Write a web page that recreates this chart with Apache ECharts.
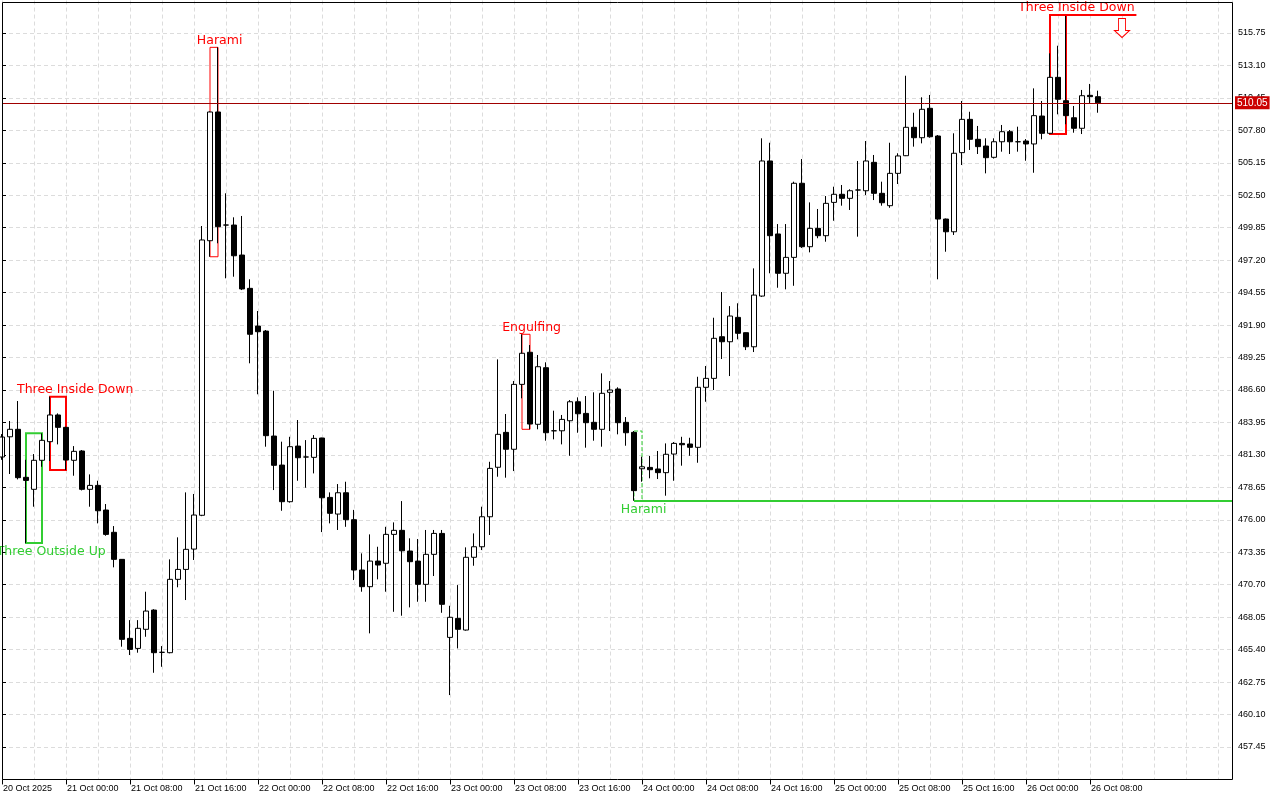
<!DOCTYPE html>
<html>
<head>
<meta charset="utf-8">
<title>H1 candles</title>
<script src="https://cdn.jsdelivr.net/npm/echarts@6.0.0/dist/echarts.min.js"></script>
<style>
  html, body { margin: 0; padding: 0; background: #fff; }
  #chart { width: 1280px; height: 800px; }
</style>
</head>
<body>
<div id="chart"></div>
<script>
// one label every 8 hourly bars, first bar is 20 Oct 16:00
const timeLabels = [
  '20 Oct 2025', '21 Oct 00:00', '21 Oct 08:00', '21 Oct 16:00', '22 Oct 00:00',
  '22 Oct 08:00', '22 Oct 16:00', '23 Oct 00:00', '23 Oct 08:00', '23 Oct 16:00',
  '24 Oct 00:00', '24 Oct 08:00', '24 Oct 16:00', '25 Oct 00:00', '25 Oct 08:00',
  '25 Oct 16:00', '26 Oct 00:00', '26 Oct 08:00'
];
const barsPerLabel = 8;
const barSlots = 153.75; // bar slots visible across the plot

const opens = [
  481.13, 482.78, 483.39, 479.47, 478.49, 480.86, 482.38, 484.56, 483.55, 480.86,
  481.62, 478.49, 478.81, 476.80, 474.98, 472.77, 466.32, 465.50, 467.06, 468.63,
  465.18, 465.15, 471.14, 471.95, 473.61, 476.37, 498.79, 509.30, 500.07, 500.07,
  497.62, 494.90, 491.82, 491.41, 482.84, 480.47, 477.48, 482.02, 481.13, 481.10,
  482.68, 477.83, 476.47, 478.21, 476.01, 471.90, 470.54, 472.63, 472.45, 474.81,
  475.14, 473.45, 472.63, 470.73, 473.18, 474.89, 466.40, 467.95, 467.00, 472.94,
  473.80, 476.25, 480.29, 483.14, 481.76, 487.06, 489.68, 483.80, 488.42, 483.27,
  483.27, 484.09, 485.64, 484.69, 483.96, 483.39, 486.41, 486.68, 483.96, 483.14,
  480.17, 480.28, 480.15, 479.85, 481.37, 482.24, 482.19, 481.92, 486.82, 487.55,
  490.95, 490.54, 492.53, 491.28, 490.13, 494.27, 505.30, 499.34, 496.13, 497.43,
  503.48, 498.30, 499.80, 499.20, 501.92, 502.58, 502.25, 502.93, 502.87, 505.19,
  502.66, 501.65, 504.29, 505.73, 508.05, 507.20, 509.60, 507.34, 500.56, 499.52,
  505.98, 508.70, 507.07, 506.52, 505.60, 506.87, 507.69, 506.87, 506.93, 506.69,
  508.97, 507.56, 512.13, 510.22, 508.83, 507.97, 510.66, 510.55
];
const highs = [
  483.00, 484.07, 485.70, 480.90, 481.37, 483.06, 486.05, 484.69, 483.60, 482.02,
  481.70, 479.71, 479.19, 477.29, 475.49, 472.80, 467.81, 467.81, 470.13, 468.70,
  465.69, 472.77, 474.57, 478.24, 478.11, 499.99, 509.35, 514.58, 502.66, 500.70,
  500.81, 495.64, 493.05, 491.50, 486.54, 482.38, 482.78, 484.15, 482.51, 482.92,
  482.70, 478.24, 478.92, 479.11, 476.81, 473.26, 474.81, 473.80, 475.43, 475.79,
  477.53, 474.49, 474.43, 475.17, 475.17, 475.17, 468.98, 470.67, 473.75, 474.89,
  477.07, 480.74, 489.10, 484.64, 487.33, 491.15, 490.27, 489.46, 488.86, 484.91,
  484.56, 485.78, 486.00, 486.11, 486.41, 487.96, 487.33, 486.82, 484.39, 483.25,
  481.15, 481.21, 481.62, 482.24, 482.35, 482.78, 482.70, 487.68, 488.56, 492.50,
  494.60, 493.45, 493.68, 491.30, 496.53, 507.15, 506.79, 500.15, 500.15, 503.61,
  505.46, 501.92, 501.38, 502.44, 503.20, 503.34, 502.99, 505.30, 506.93, 505.79,
  503.61, 506.79, 505.93, 512.26, 509.24, 510.50, 510.69, 507.42, 500.60, 507.56,
  510.20, 509.32, 508.16, 507.15, 507.15, 508.24, 507.83, 508.10, 507.09, 511.23,
  510.20, 514.09, 514.71, 517.22, 509.79, 511.10, 511.59, 511.04
];
const lows = [
  480.90, 479.74, 479.30, 474.10, 477.07, 480.33, 480.80, 482.16, 480.06, 479.60,
  478.40, 477.07, 475.71, 474.70, 472.12, 465.64, 464.96, 465.15, 466.45, 463.51,
  464.00, 465.10, 470.49, 469.45, 472.72, 476.30, 497.48, 498.58, 495.72, 495.85,
  494.76, 488.78, 486.25, 481.97, 478.43, 476.74, 477.40, 479.19, 478.62, 479.79,
  475.00, 475.71, 475.17, 475.43, 471.08, 470.13, 466.73, 471.14, 470.13, 468.49,
  468.17, 468.85, 469.31, 469.31, 471.41, 468.41, 461.69, 465.50, 466.95, 472.25,
  473.53, 474.76, 479.52, 479.44, 479.98, 485.92, 483.39, 483.39, 482.46, 482.57,
  482.16, 481.23, 483.11, 481.89, 482.46, 481.97, 483.25, 482.98, 482.05, 477.56,
  479.11, 479.39, 479.33, 477.97, 479.19, 480.42, 481.23, 480.66, 485.64, 486.60,
  489.13, 487.74, 490.74, 489.86, 489.70, 494.20, 496.13, 494.95, 494.82, 495.11,
  498.20, 497.84, 498.99, 498.71, 500.42, 501.65, 501.30, 499.12, 502.52, 502.11,
  501.65, 501.48, 503.42, 505.70, 506.47, 506.74, 507.20, 495.64, 497.89, 499.26,
  504.97, 506.20, 505.87, 504.29, 505.50, 506.06, 505.87, 506.06, 505.32, 504.34,
  507.07, 507.50, 509.11, 508.30, 507.61, 507.50, 510.01, 509.24
];
const closes = [
  482.76, 483.39, 479.44, 479.22, 480.86, 482.49, 484.56, 483.55, 480.88, 481.59,
  478.49, 478.81, 476.74, 474.81, 472.77, 466.24, 465.42, 467.14, 468.55, 465.15,
  465.18, 471.14, 471.95, 473.59, 476.39, 498.85, 509.30, 499.93, 500.07, 497.56,
  494.85, 491.15, 491.36, 482.87, 480.45, 477.48, 481.97, 481.07, 481.13, 482.65,
  477.80, 476.53, 478.21, 476.01, 471.90, 470.54, 472.63, 472.31, 474.81, 475.14,
  473.47, 472.58, 470.73, 473.18, 474.89, 469.10, 468.04, 467.06, 472.94, 473.80,
  476.25, 480.20, 482.98, 481.76, 487.06, 489.60, 483.82, 488.50, 483.11, 483.27,
  484.20, 485.64, 484.66, 483.93, 483.39, 486.33, 486.60, 483.93, 483.11, 478.38,
  480.33, 480.09, 479.85, 481.35, 482.24, 482.13, 481.92, 486.82, 487.55, 490.82,
  490.54, 492.64, 491.23, 490.13, 494.35, 505.30, 499.20, 496.13, 497.43, 503.48,
  498.30, 499.80, 499.20, 501.84, 502.58, 502.25, 502.87, 502.93, 505.30, 502.66,
  501.89, 504.29, 505.71, 508.05, 507.20, 509.52, 507.28, 500.56, 499.52, 505.93,
  508.70, 507.07, 506.47, 505.57, 506.87, 507.69, 506.87, 506.87, 506.69, 509.00,
  507.56, 512.13, 510.34, 509.00, 507.97, 510.63, 510.55, 510.05
];

// candle patterns found on the chart (bar indexes)
const patternNames = ['Three Outside Up', 'Three Inside Down', 'Harami', 'Engulfing', 'Harami', 'Three Inside Down'];
const patternFirst = [3, 6, 26, 65, 79, 131];
const patternLast = [5, 8, 27, 66, 80, 133];
const patternBullish = [true, false, false, false, true, false];
const patternTextBar = [6.15, 9.15, 27.2, 66.2, 80.2, 134.3];

const signalBar = 140;
const signalPrice = 516.16;
const signalLineEnd = 141.8;

const yMin = 454.80;
const yMax = 518.40;
const yStep = 2.65;

const RED = '#ff0000';
const GREEN = '#32cd32';
const FONT = 'Liberation Sans';

const candles = opens.map((o, i) => [i, o, closes[i], lows[i], highs[i]]);
const labelBars = timeLabels.map((t, i) => i * barsPerLabel);

const rangeOf = i => {
  const a = patternFirst[i], b = patternLast[i];
  return {
    top: Math.max(...highs.slice(a, b + 1)),
    bottom: Math.min(...lows.slice(a, b + 1))
  };
};

const rects = patternNames.map((name, i) => {
  const r = rangeOf(i);
  const wide = patternLast[i] - patternFirst[i] >= 2;
  const bull = patternBullish[i];
  return [{
    coord: [patternFirst[i], r.top],
    itemStyle: {
      color: 'rgba(0,0,0,0)',
      borderColor: bull ? GREEN : RED,
      borderWidth: wide ? 2 : 1,
      borderType: (bull && !wide) ? 'dashed' : 'solid'
    }
  }, {
    coord: [patternLast[i], r.bottom]
  }];
});

const texts = patternNames.map((name, i) => {
  const r = rangeOf(i);
  const bull = patternBullish[i];
  return {
    name: name,
    coord: [patternTextBar[i], bull ? r.bottom : r.top],
    symbol: 'rect',
    symbolSize: 1,
    itemStyle: { color: 'rgba(0,0,0,0)' },
    label: {
      show: true,
      position: bull ? 'bottom' : 'top',
      distance: bull ? 2 : 0,
      formatter: name,
      color: bull ? GREEN : RED,
      fontSize: 12.5,
      fontFamily: 'DejaVu Sans'
    }
  };
});

const arrow = {
  coord: [signalBar, signalPrice],
  symbol: 'path://M4,0 L11,0 L11,12 L15,12 L7.5,19 L0,12 L4,12 Z',
  symbolSize: [15, 19],
  itemStyle: { color: '#fff', borderColor: RED, borderWidth: 1 },
  label: { show: false }
};

const support = rangeOf(4).bottom;
const lastTop = rangeOf(5).top;
const lastClose = closes[closes.length - 1];

const lines = [
  {
    yAxis: lastClose,
    lineStyle: { color: '#a00000', width: 1, type: 'solid' },
    label: {
      show: true,
      position: 'end',
      distance: 3,
      formatter: p => p.value.toFixed(2),
      color: '#fff',
      backgroundColor: '#cc0000',
      padding: [2, 2, 1, 2],
      fontSize: 10,
      fontFamily: FONT
    }
  },
  [
    { coord: [patternFirst[4], support], lineStyle: { color: GREEN, width: 2, type: 'solid' } },
    { coord: [barSlots, support] }
  ],
  [
    { coord: [patternFirst[5], lastTop], lineStyle: { color: RED, width: 2, type: 'solid' } },
    { coord: [signalLineEnd, lastTop] }
  ]
];

const gridLine = { color: '#dcdcdc', type: [4, 3], width: 1 };

const myChart = echarts.init(document.getElementById('chart'));

const option = {
  animation: false,
  backgroundColor: '#fff',
  grid: {
    left: 2,
    right: 48,
    top: 0.55,
    bottom: 20.55
  },
  xAxis: [{
    type: 'value',
    min: 0,
    max: barSlots,
    interval: barsPerLabel,
    axisLine: { show: false },
    axisTick: {
      show: true,
      length: 5,
      customValues: labelBars,
      lineStyle: { color: '#000' }
    },
    axisLabel: {
      align: 'left',
      margin: 5,
      padding: [0, 0, 0, 1],
      color: '#000',
      fontSize: 9,
      fontFamily: FONT,
      customValues: labelBars,
      formatter: v => timeLabels[Math.round(v / barsPerLabel)] || ''
    },
    splitLine: { show: false }
  }, {
    type: 'value',
    position: 'top',
    min: 0,
    max: barSlots,
    interval: barsPerLabel / 2,
    axisLine: { show: false },
    axisTick: { show: false },
    axisLabel: { show: false },
    splitLine: { show: true, lineStyle: gridLine }
  }],
  yAxis: {
    type: 'value',
    position: 'right',
    min: yMin,
    max: yMax,
    interval: yStep,
    axisLine: { show: false },
    axisTick: { show: true, length: 4, lineStyle: { color: '#000' } },
    axisLabel: {
      margin: 6,
      color: '#000',
      fontSize: 9,
      fontFamily: FONT,
      showMinLabel: false,
      showMaxLabel: false,
      formatter: v => v.toFixed(2)
    },
    splitLine: { show: true, showMinLine: false, showMaxLine: false, lineStyle: gridLine }
  },
  graphic: [{
    type: 'rect',
    silent: true,
    z: 100,
    shape: { x: 2.5, y: 2.5, width: 1230, height: 777 },
    style: { fill: 'none', stroke: '#000', lineWidth: 1 }
  }],
  series: [{
    type: 'candlestick',
    name: 'H1',
    xAxisIndex: 0,
    yAxisIndex: 0,
    silent: true,
    data: candles,
    encode: { x: 0, y: [1, 2, 3, 4] },
    barWidth: 5,
    itemStyle: {
      color: '#fff',
      color0: '#000',
      borderColor: '#000',
      borderColor0: '#000',
      borderWidth: 1
    },
    markArea: {
      silent: true,
      label: { show: false },
      data: rects
    },
    markLine: {
      silent: true,
      symbol: ['none', 'none'],
      label: { show: false },
      data: lines
    },
    markPoint: {
      silent: true,
      data: texts.concat([arrow])
    }
  }]
};

myChart.setOption(option);
</script>
</body>
</html>
